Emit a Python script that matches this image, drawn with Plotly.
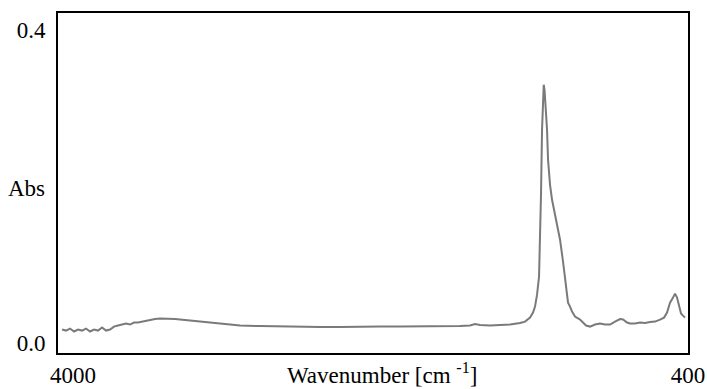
import plotly.graph_objects as go

# IR spectrum
wavenumber = [4064.4, 4041.0, 4017.6, 3994.1, 3970.7, 3947.3, 3923.9, 3900.5, 3877.1, 3853.6,
              3830.2, 3806.8, 3783.4, 3760.0, 3736.6, 3713.2, 3689.7, 3666.3, 3642.9, 3619.5,
              3596.1, 3572.7, 3549.2, 3520.0, 3490.7, 3461.4, 3432.2, 3402.9, 3373.6, 3344.4,
              3315.1, 3285.8, 3256.5, 3198.0, 3139.5, 3080.9, 3022.4, 2905.3, 2788.2, 2671.1,
              2554.1, 2437.0, 2319.9, 2202.8, 2085.7, 1968.7, 1851.6, 1734.5, 1676.0, 1646.7,
              1617.4, 1558.9, 1500.3, 1441.8, 1383.3, 1354.0, 1324.7, 1307.2, 1295.5, 1283.7,
              1272.0, 1266.2, 1260.3, 1254.5, 1248.6, 1244.5, 1239.8, 1231.0, 1225.2, 1219.3,
              1207.6, 1195.9, 1172.5, 1149.1, 1131.5, 1119.8, 1108.1, 1102.3, 1090.6, 1078.9,
              1061.3, 1032.0, 996.9, 973.5, 944.3, 915.0, 885.7, 856.4, 827.2, 797.9,
              780.3, 756.9, 739.4, 710.1, 680.8, 651.6, 622.3, 593.0, 563.7, 540.3,
              522.8, 505.2, 487.6, 475.9, 464.2, 452.5, 440.8, 429.1, 417.4]
absorbance = [0.0166, 0.0153, 0.0179, 0.0141, 0.0166, 0.0153, 0.0179, 0.0141, 0.0166, 0.0153,
              0.0192, 0.0153, 0.0166, 0.0204, 0.0217, 0.0230, 0.0243, 0.0230, 0.0256, 0.0256,
              0.0268, 0.0281, 0.0294, 0.0300, 0.0307, 0.0307, 0.0307, 0.0300, 0.0294, 0.0288,
              0.0281, 0.0275, 0.0268, 0.0262, 0.0243, 0.0230, 0.0217, 0.0211, 0.0204, 0.0198,
              0.0198, 0.0198, 0.0204, 0.0204, 0.0204, 0.0204, 0.0204, 0.0211, 0.0217, 0.0236,
              0.0224, 0.0217, 0.0224, 0.0230, 0.0249, 0.0268, 0.0319, 0.0383, 0.0460, 0.0613,
              0.0843, 0.1316, 0.1917, 0.2722, 0.3169, 0.3300, 0.3233, 0.2914, 0.2722, 0.2339,
              0.2019, 0.1827, 0.1572, 0.1316, 0.1035, 0.0843, 0.0613, 0.0511, 0.0460, 0.0396,
              0.0332, 0.0294, 0.0217, 0.0204, 0.0230, 0.0243, 0.0230, 0.0230, 0.0268, 0.0300,
              0.0294, 0.0256, 0.0243, 0.0243, 0.0256, 0.0249, 0.0262, 0.0268, 0.0294, 0.0319,
              0.0383, 0.0511, 0.0575, 0.0626, 0.0575, 0.0486, 0.0371, 0.0345, 0.0319]

x_tick_values = [4000, 400]
x_tick_labels = ["4000", "400"]
y_tick_values = [0.0, 0.4]
y_tick_labels = ["0.0", "0.4"]
x_title = "Wavenumber [cm <sup>-1</sup>]"
y_title = "Abs"

FONT = "'Times New Roman', 'Liberation Serif', serif"
tick_font = dict(family=FONT, size=23, color="black")

fig = go.Figure()
fig.add_trace(go.Scatter(
    x=wavenumber, y=absorbance, mode="lines",
    line=dict(color="#7a7a7a", width=2), showlegend=False, hoverinfo="skip"))

fig.update_layout(
    template="none",
    width=707, height=389, autosize=False,
    margin=dict(l=58, r=19, t=13, b=36, pad=0, autoexpand=False),
    paper_bgcolor="white", plot_bgcolor="white",
    font=dict(family=FONT, size=23, color="black"),
    xaxis=dict(range=[4088, 400], tickvals=x_tick_values, ticktext=x_tick_labels,
               tickfont=tick_font, automargin=False,
               showgrid=False, zeroline=False, ticks="", ticklabelstandoff=0,
               showline=True, mirror=True, linecolor="black", linewidth=2),
    yaxis=dict(range=[-0.0134, 0.4218], tickvals=y_tick_values, ticktext=y_tick_labels,
               tickfont=tick_font, automargin=False,
               showgrid=False, zeroline=False, ticks="", ticklabelstandoff=6,
               showline=True, mirror=True, linecolor="black", linewidth=2),
    annotations=[
        dict(text=x_title, xref="paper", yref="paper", x=0.5135, y=-0.061,
             xanchor="center", yanchor="middle", showarrow=False,
             font=dict(family=FONT, size=23, color="black")),
        dict(text=y_title, xref="paper", yref="paper", x=-0.0175, y=0.485,
             xanchor="right", yanchor="middle", showarrow=False,
             font=dict(family=FONT, size=23, color="black")),
    ],
)

fig.write_html("out.html", config={"displayModeBar": False},
               post_script="document.body.style.margin='0';document.body.style.overflow='hidden';")
